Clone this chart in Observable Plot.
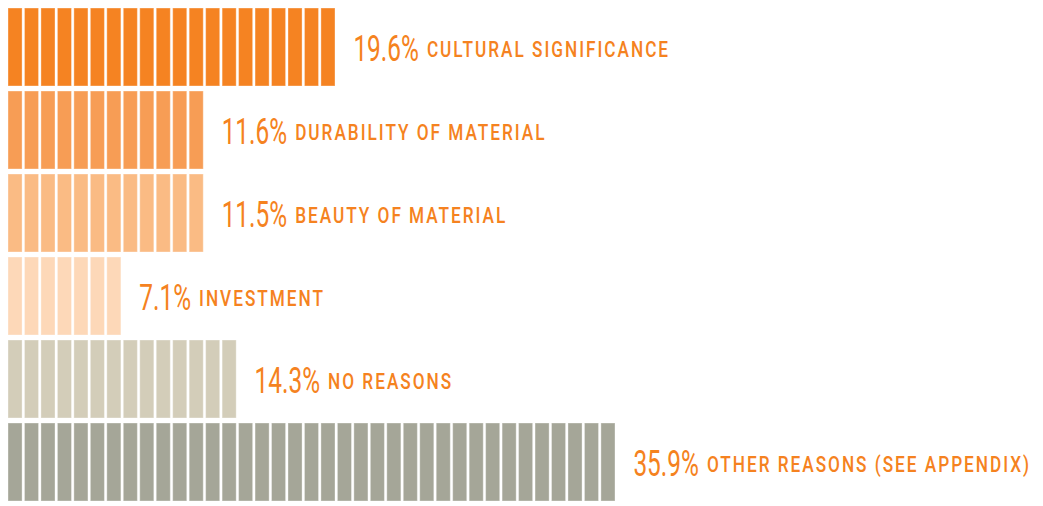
<!DOCTYPE html>
<html>
<head>
<meta charset="utf-8">
<script src="https://cdn.jsdelivr.net/npm/d3@7"></script>
<script src="https://cdn.jsdelivr.net/npm/@observablehq/plot@0.6"></script>
<style>
  html, body { margin: 0; padding: 0; background: #fff; }
  svg { display: block; }
</style>
</head>
<body>
<script>
// ---- data ----
const categories = [
  "Cultural significance",
  "Durability of material",
  "Beauty of material",
  "Investment",
  "No reasons",
  "Other reasons (see appendix)"
];
const percents = [19.6, 11.6, 11.5, 7.1, 14.3, 35.9];
const unitCounts = [20, 12, 12, 7, 14, 37];
const colors = ["#F58322", "#F79D55", "#FABB84", "#FDD8B8", "#D3CDB9", "#A5A698"];

// ---- tables built from the arrays ----
const rows = categories.map((cat, k) => ({cat, pct: percents[k], units: unitCounts[k]}));
const units = rows.flatMap(r => d3.range(r.units).map(i => ({cat: r.cat, i})));

const ORANGE = "#F58220";
const FONT = "Roboto, 'Liberation Sans', sans-serif";
const UNIT = 16.47;

const chart = Plot.plot({
  width: 1043,
  height: 506,
  marginTop: 0, marginBottom: 0, marginLeft: 0, marginRight: 0,
  x: {domain: [0, 62], range: [8, 8 + 62 * UNIT], axis: null},
  y: {domain: categories, range: [7, 503], paddingInner: 0.06, paddingOuter: 0, axis: null},
  color: {domain: categories, range: colors},
  style: {fontFamily: FONT, background: "#fff"},
  marks: [
    Plot.barX(units, {
      x1: "i", x2: d => d.i + 1, y: "cat", fill: "cat",
      insetRight: 2.4, stroke: "#fff", strokeOpacity: 0.35, strokeWidth: 1
    }),
    Plot.text(rows, {
      x: "units", y: "cat", text: d => d.pct.toFixed(1) + "%",
      textAnchor: "start", dx: 15.5, dy: 2, fontSize: 37, fill: ORANGE,
      fontFamily: FONT
    })
  ]
});

document.body.append(chart);

// condense the texts horizontally and add the category labels next to the numbers
const NUM_SQUEEZE = 0.66, LABEL_SQUEEZE = 0.765, GAP = 8;
const texts = chart.querySelectorAll('g[aria-label="text"] text');
texts.forEach(t => {
  const i = t.__data__;
  const tr = t.getAttribute("transform") || "";
  const x0 = parseFloat(t.getAttribute("x") || 0);
  const w = t.getComputedTextLength();
  const cw = w * NUM_SQUEEZE;
  // squeeze the number about its own start point
  t.setAttribute("x", x0 / NUM_SQUEEZE);
  t.setAttribute("transform", `${tr} scale(${NUM_SQUEEZE},1)`);
  // category label, squeezed about its own start point
  const lab = t.cloneNode(false);
  lab.textContent = rows[i].cat.toUpperCase();
  lab.setAttribute("font-size", 22.5);
  lab.setAttribute("font-weight", 500);
  lab.setAttribute("letter-spacing", "2.6px");
  lab.setAttribute("x", (x0 + cw + GAP) / LABEL_SQUEEZE);
  lab.setAttribute("transform", `${tr} scale(${LABEL_SQUEEZE},1)`);
  t.after(lab);
});
</script>
</body>
</html>
